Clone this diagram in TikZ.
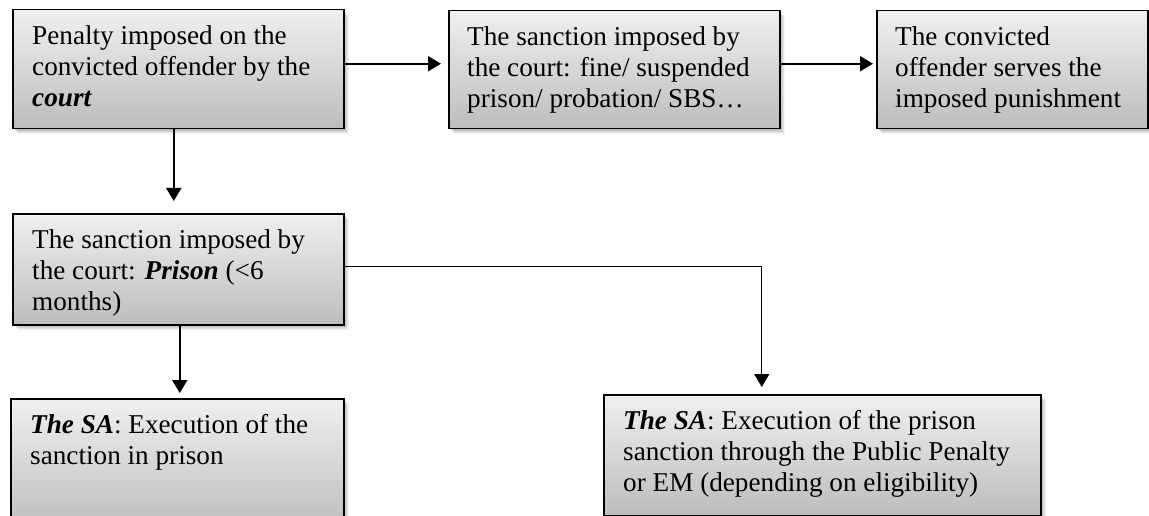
\documentclass[tikz,border=0pt]{standalone}
\usepackage{fontspec}
\setmainfont{Liberation Serif}
\usetikzlibrary{arrows.meta,calc}
\tikzset{
  softshadow/.style={
    preaction={fill=black, opacity=0.07, transform canvas={xshift=1.5pt,yshift=-1.5pt}},
    preaction={fill=black, opacity=0.07, transform canvas={xshift=2.5pt,yshift=-2.5pt}},
    preaction={fill=black, opacity=0.07, transform canvas={xshift=3.5pt,yshift=-3.5pt}},
    preaction={fill=black, opacity=0.06, transform canvas={xshift=4.5pt,yshift=-4.5pt}},
    preaction={fill=black, opacity=0.05, transform canvas={xshift=5.5pt,yshift=-5.5pt}}},
  boxnode/.style={softshadow, draw=black, line width=1.5pt, top color=gray!12, bottom color=gray!52,
    inner sep=0pt, anchor=north west},
  txt/.style={anchor=north west, inner sep=0pt, align=left,
    font=\fontsize{27.2}{31}\selectfont},
  arr/.style={line width=2pt, -{Triangle[length=13pt,width=15pt]}},
}
\newcommand{\bi}[1]{\textbf{\textit{#1}}}
\newcommand{\firstline}{\rule{0pt}{24pt}}
\begin{document}
\begin{tikzpicture}[x=1pt,y=-1pt]
\useasboundingbox (0,0) rectangle (1149,516);
% boxes
\node[boxnode, minimum width=331pt, minimum height=119pt] (b1) at (12,9) {};
\node[boxnode, minimum width=331pt, minimum height=118pt] (b2) at (448,10) {};
\node[boxnode, minimum width=271pt, minimum height=118pt] (b3) at (876,10) {};
\node[boxnode, minimum width=331pt, minimum height=111pt] (b4) at (12,213) {};
\node[boxnode, minimum width=333pt, minimum height=132pt] (b5) at (10,398) {};
\node[boxnode, minimum width=437pt, minimum height=121pt] (b6) at (603,394) {};
% texts
\node[txt] (t1) at ($(b1.north west)+(20,11)$) {\firstline Penalty imposed on the\\convicted offender by the\\\bi{court}};
\node[txt] (t2) at ($(b2.north west)+(19,11)$) {\firstline The sanction imposed by\\the court: fine/ suspended\\prison/ probation/ SBS…};
\node[txt] (t3) at ($(b3.north west)+(19,11)$) {\firstline The convicted\\offender serves the\\imposed punishment};
\node[txt] (t4) at ($(b4.north west)+(20,11)$) {\firstline The sanction imposed by\\the court: \bi{Prison} (<6\\months)};
\node[txt] (t5) at ($(b5.north west)+(20,11)$) {\firstline\bi{The SA}: Execution of the\\sanction in prison};
\node[txt] (t6) at ($(b6.north west)+(20,11)$) {\firstline\bi{The SA}: Execution of the prison\\sanction through the Public Penalty\\or EM (depending on eligibility)};
% connectors
\draw[arr, shorten >=7pt] ([yshift=5.5pt]b1.east) -- ([yshift=5.5pt]b1.east -| b2.west);
\draw[arr, shorten >=3pt] ([yshift=6pt]b2.east) -- ([yshift=6pt]b2.east -| b3.west);
\draw[arr, shorten >=12pt] ([xshift=-4.5pt]b1.south) -- ([xshift=-4.5pt]b1.south |- b4.north);
\draw[arr, shorten >=5pt] ([xshift=1.5pt]b4.south) -- ([xshift=1.5pt]b4.south |- b5.north);
\draw[line width=1.3pt, -{Triangle[length=13pt,width=15pt]}, shorten >=7pt]
  ([yshift=2.5pt]b4.east) -| ([xshift=-60.5pt]b6.north);
\end{tikzpicture}
\end{document}
